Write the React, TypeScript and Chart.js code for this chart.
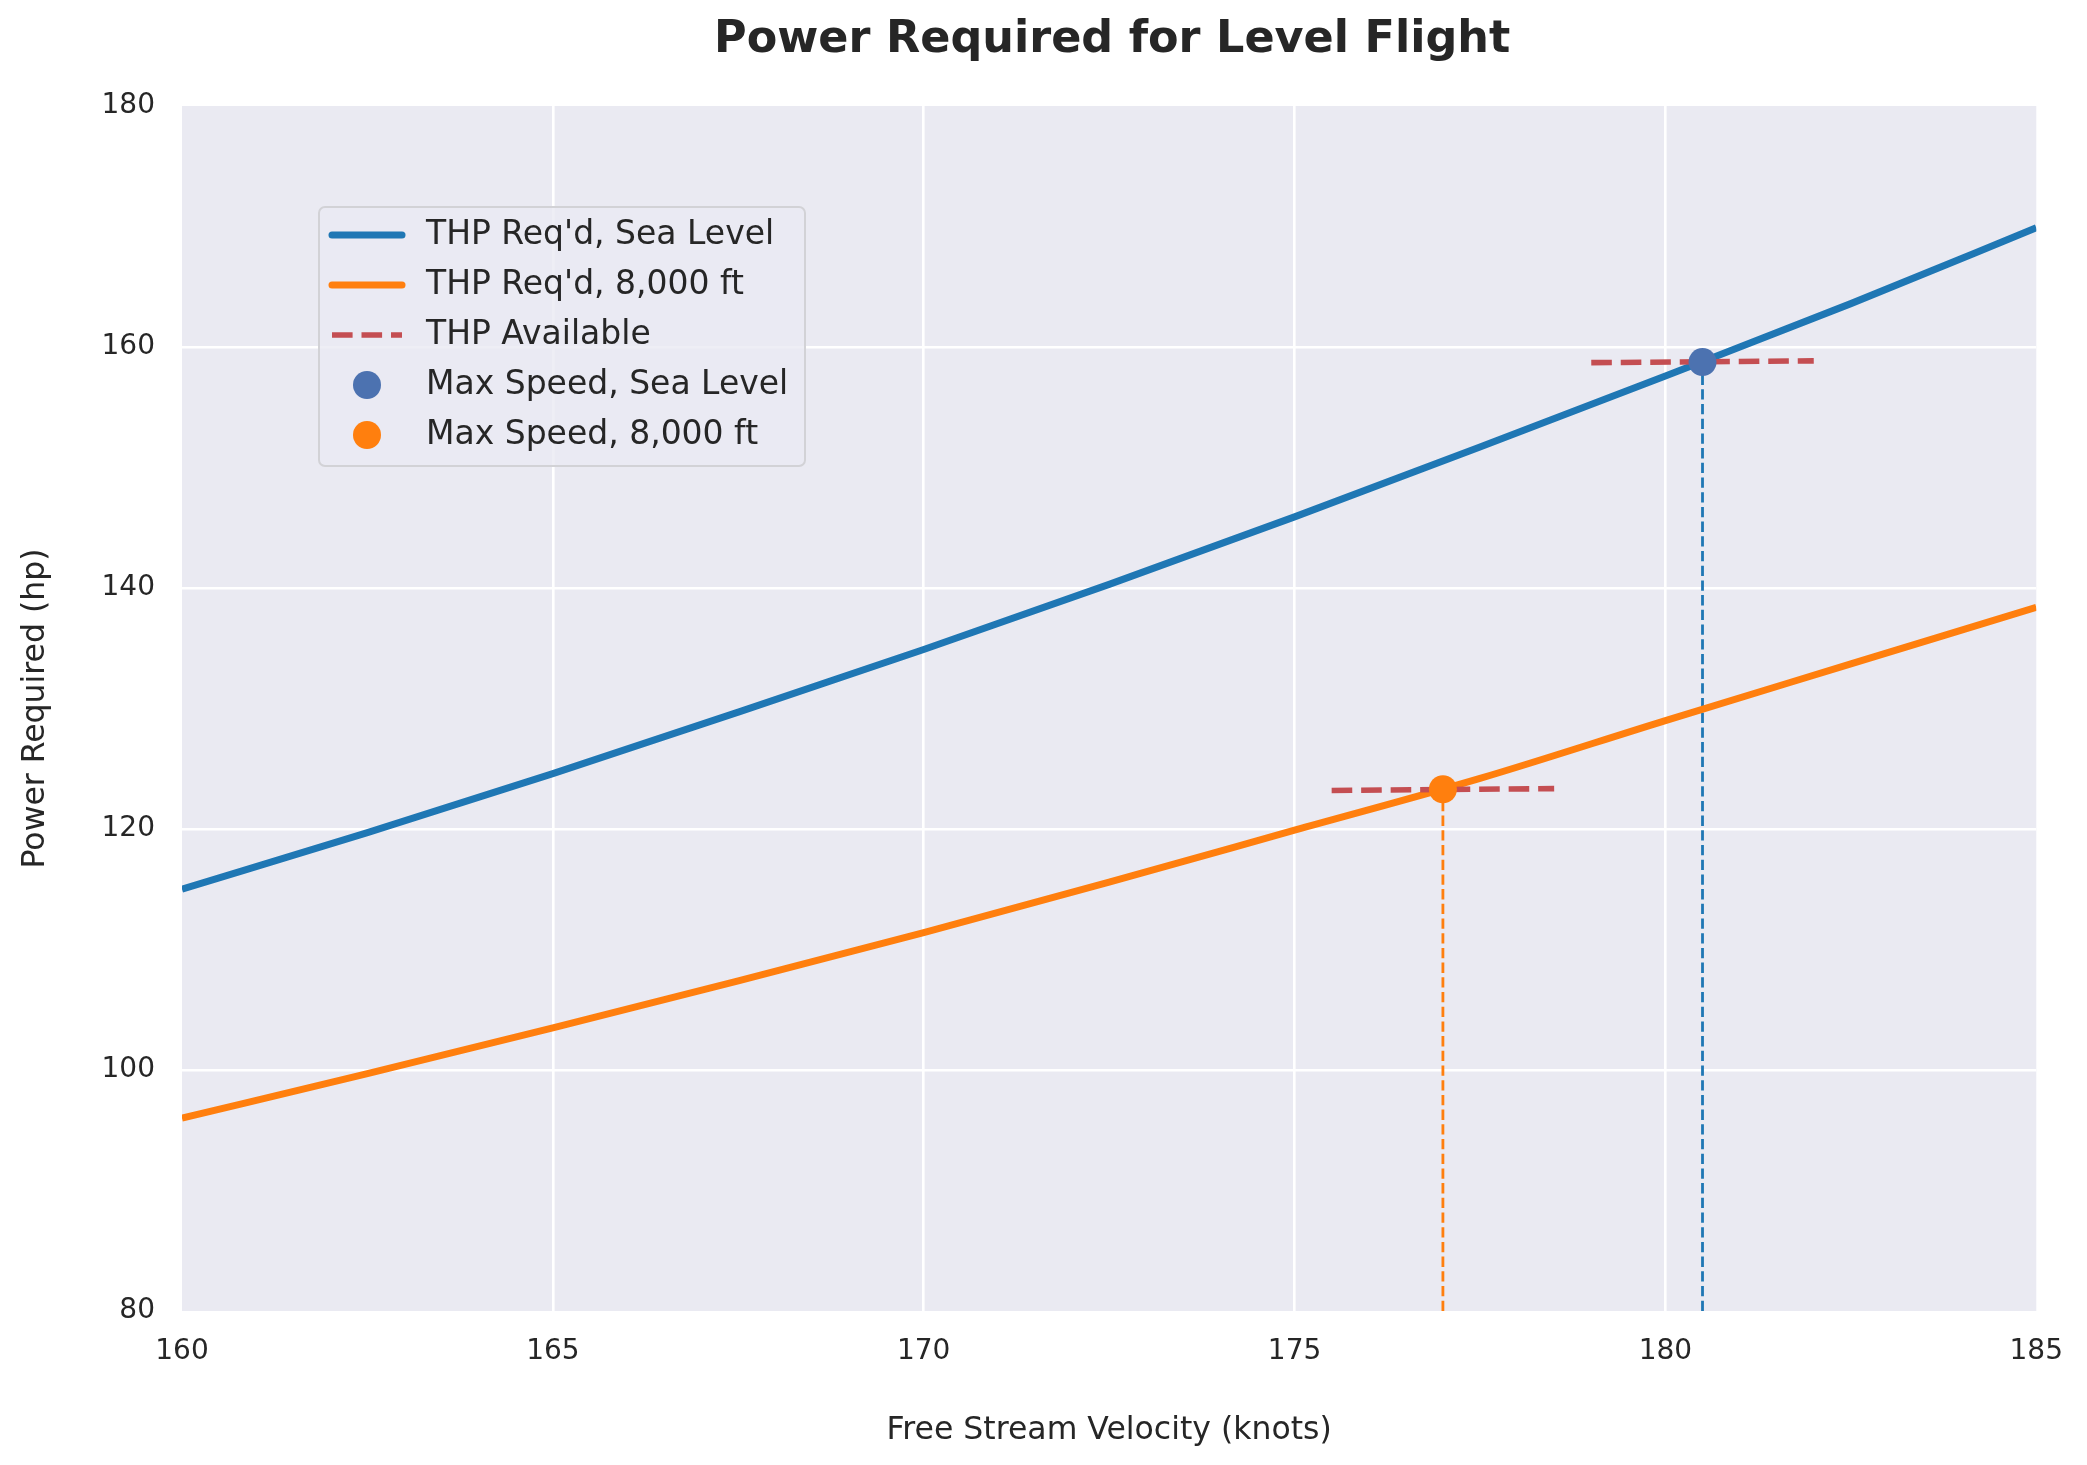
import { useEffect, useRef } from 'react'
import Chart from 'chart.js/auto'

const FONT = "'DejaVu Sans', 'Liberation Sans', sans-serif"
const INK = '#262626'

// free stream velocity (knots) and power required (hp)
const speeds = [160, 162.5, 165, 167.5, 170, 172.5, 175, 177.5, 180, 182.5, 185]
const thpSeaLevel = [115.0, 119.7, 124.6, 129.7, 134.9, 140.3, 145.9, 151.7, 157.6, 163.6, 169.9]
const thp8000 = [96.0, 99.7, 103.5, 107.4, 111.4, 115.6, 119.9, 124.2, 129.0, 133.7, 138.4]

// short THP available segments around each crossing
const availSeaLevelX = [179, 182]
const availSeaLevelY = [158.7, 158.85]
const avail8000X = [175.5, 178.5]
const avail8000Y = [123.2, 123.35]

// max speed points: [sea level, 8,000 ft]
const maxSpeedX = [180.5, 177.0]
const maxSpeedY = [158.75, 123.3]

const xTicks = [160, 165, 170, 175, 180, 185]
const yTicks = [80, 100, 120, 140, 160, 180]

const legendLabels = ["THP Req'd, Sea Level", "THP Req'd, 8,000 ft", 'THP Available', 'Max Speed, Sea Level', 'Max Speed, 8,000 ft']

const BLUE = '#1f77b4'
const ORANGE = '#ff7f0e'
const RED = '#c44e52'
const DEEP_BLUE = '#4c72b0'

const pts = (xs: number[], ys: number[]) => xs.map((x, i) => ({ x, y: ys[i] }))

const plotBackground = {
  id: 'plotBackground',
  beforeDraw(chart: any) {
    const { ctx, chartArea: a } = chart
    ctx.save()
    ctx.fillStyle = '#eaeaf2'
    ctx.fillRect(a.left, a.top, a.right - a.left, a.bottom - a.top)
    ctx.restore()
  },
}

const titleAndLegend = {
  id: 'titleAndLegend',
  afterDraw(chart: any) {
    const { ctx, chartArea: a } = chart
    ctx.save()
    // title, centred over the plot
    ctx.fillStyle = INK
    ctx.font = `bold 44.5px ${FONT}`
    ctx.textAlign = 'center'
    ctx.textBaseline = 'alphabetic'
    ctx.fillText('Power Required for Level Flight', (a.left + a.right) / 2 + 3, 52)

    // legend box
    const bx = 319, by = 207, bw = 486, bh = 259
    ctx.beginPath()
    ctx.roundRect(bx, by, bw, bh, 6)
    ctx.fillStyle = 'rgba(234,234,242,0.8)'
    ctx.fill()
    ctx.lineWidth = 2
    ctx.strokeStyle = '#d2d2d6'
    ctx.stroke()

    const rowY = [235, 285, 335, 385, 435]
    const hx0 = 332, hx1 = 402, hcx = 367
    legendLabels.forEach((label, i) => {
      const y = rowY[i]
      ctx.save()
      if (i < 3) {
        ctx.beginPath()
        ctx.moveTo(hx0, y)
        ctx.lineTo(hx1, y)
        if (i === 2) {
          ctx.strokeStyle = RED
          ctx.lineWidth = 5.6
          ctx.setLineDash([20.6, 8.9])
          ctx.lineCap = 'butt'
        } else {
          ctx.strokeStyle = i === 0 ? BLUE : ORANGE
          ctx.lineWidth = 7
          ctx.lineCap = 'round'
        }
        ctx.stroke()
      } else {
        ctx.beginPath()
        ctx.arc(hcx, y, 14, 0, Math.PI * 2)
        ctx.fillStyle = i === 3 ? DEEP_BLUE : ORANGE
        ctx.fill()
      }
      ctx.restore()
      ctx.fillStyle = INK
      ctx.font = `33px ${FONT}`
      ctx.textAlign = 'left'
      ctx.textBaseline = 'middle'
      ctx.fillText(label, 426, y)
    })
    ctx.restore()
  },
}

export default function App() {
  const canvasRef = useRef<HTMLCanvasElement>(null)

  useEffect(() => {
    document.body.style.margin = '0'
    if (!canvasRef.current) return
    const yMin = yTicks[0]
    const gridColor = (ctx: any) => {
      const v = ctx.tick?.value
      const s = ctx.scale
      return v === s.min || v === s.max ? 'rgba(0,0,0,0)' : '#ffffff'
    }

    const chart = new Chart(canvasRef.current, {
      type: 'line',
      data: {
        datasets: [
          {
            label: 'Max Speed, Sea Level',
            data: [{ x: maxSpeedX[0], y: maxSpeedY[0] }],
            showLine: false,
            pointRadius: 14,
            pointBorderWidth: 0,
            pointBackgroundColor: DEEP_BLUE,
            order: 0,
          },
          {
            label: 'Max Speed, 8,000 ft',
            data: [{ x: maxSpeedX[1], y: maxSpeedY[1] }],
            showLine: false,
            pointRadius: 14,
            pointBorderWidth: 0,
            pointBackgroundColor: ORANGE,
            order: 0,
          },
          {
            label: 'THP Available',
            data: pts(availSeaLevelX, availSeaLevelY),
            borderColor: RED,
            borderWidth: 5.6,
            borderDash: [20.6, 8.9],
            pointRadius: 0,
            order: 1,
          },
          {
            label: 'THP Available 8k',
            data: pts(avail8000X, avail8000Y),
            borderColor: RED,
            borderWidth: 5.6,
            borderDash: [20.6, 8.9],
            pointRadius: 0,
            order: 1,
          },
          {
            label: "THP Req'd, Sea Level",
            data: pts(speeds, thpSeaLevel),
            borderColor: BLUE,
            borderWidth: 7,
            pointRadius: 0,
            cubicInterpolationMode: 'monotone',
            clip: 0,
            order: 2,
          },
          {
            label: "THP Req'd, 8,000 ft",
            data: pts(speeds, thp8000),
            borderColor: ORANGE,
            borderWidth: 7,
            pointRadius: 0,
            cubicInterpolationMode: 'monotone',
            clip: 0,
            order: 2,
          },
          {
            label: 'drop sea level',
            data: [{ x: maxSpeedX[0], y: yMin }, { x: maxSpeedX[0], y: maxSpeedY[0] }],
            borderColor: BLUE,
            borderWidth: 2.8,
            borderDash: [10.3, 4.4],
            pointRadius: 0,
            order: 3,
          },
          {
            label: 'drop 8k',
            data: [{ x: maxSpeedX[1], y: yMin }, { x: maxSpeedX[1], y: maxSpeedY[1] }],
            borderColor: ORANGE,
            borderWidth: 2.8,
            borderDash: [10.3, 4.4],
            pointRadius: 0,
            order: 3,
          },
        ],
      },
      options: {
        animation: false,
        responsive: true,
        maintainAspectRatio: false,
        devicePixelRatio: 1,
        layout: { padding: { top: 106, right: 48, left: 0, bottom: 0 } },
        plugins: { legend: { display: false }, tooltip: { enabled: false }, title: { display: false } },
        scales: {
          x: {
            type: 'linear',
            min: xTicks[0],
            max: xTicks[xTicks.length - 1],
            afterBuildTicks: (s: any) => { s.ticks = xTicks.map(v => ({ value: v })) },
            afterFit: (s: any) => { s.height = 154 },
            ticks: { color: INK, font: { family: FONT, size: 28 }, padding: 24, maxRotation: 0 },
            grid: { color: gridColor, lineWidth: 2.6, drawTicks: false },
            border: { display: false },
            title: {
              display: true,
              text: 'Free Stream Velocity (knots)',
              color: INK,
              font: { family: FONT, size: 31.5 },
              padding: { top: 0, bottom: 15 },
            },
          },
          y: {
            type: 'linear',
            min: yTicks[0],
            max: yTicks[yTicks.length - 1],
            afterBuildTicks: (s: any) => { s.ticks = yTicks.map(v => ({ value: v })) },
            afterFit: (s: any) => { s.width = 182 },
            ticks: { color: INK, font: { family: FONT, size: 28 }, padding: 27 },
            grid: { color: gridColor, lineWidth: 2.6, drawTicks: false },
            border: { display: false },
            title: {
              display: true,
              text: 'Power Required (hp)',
              color: INK,
              font: { family: FONT, size: 31.5 },
              padding: { top: 17, bottom: 0 },
            },
          },
        },
      },
      plugins: [plotBackground, titleAndLegend],
    } as any)

    return () => chart.destroy()
  }, [])

  return (
    <div style={{ position: 'relative', width: 2087, height: 1465, background: '#ffffff' }}>
      <canvas ref={canvasRef} />
    </div>
  )
}
